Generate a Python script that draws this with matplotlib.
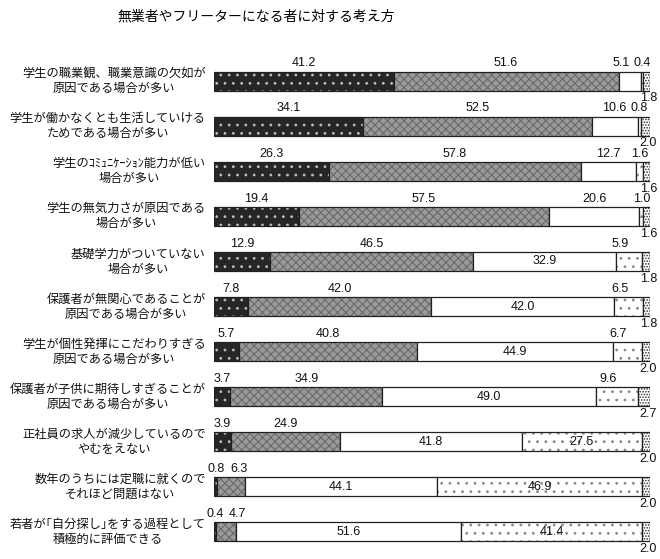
import matplotlib
matplotlib.use("Agg")
import matplotlib.pyplot as plt
import numpy as np

plt.rcParams['font.family'] = ['Noto Sans CJK JP', 'DejaVu Sans']
plt.rcParams['hatch.linewidth'] = 0.8

title = "無業者やフリーターになる者に対する考え方"

categories = [
    "学生の職業観、職業意識の欠如が\n原因である場合が多い",
    "学生が働かなくとも生活していける\nためである場合が多い",
    "学生のｺﾐｭﾆｹｰｼｮﾝ能力が低い\n場合が多い",
    "学生の無気力さが原因である\n場合が多い",
    "基礎学力がついていない\n場合が多い",
    "保護者が無関心であることが\n原因である場合が多い",
    "学生が個性発揮にこだわりすぎる\n原因である場合が多い",
    "保護者が子供に期待しすぎることが\n原因である場合が多い",
    "正社員の求人が減少しているので\nやむをえない",
    "数年のうちには定職に就くので\nそれほど問題はない",
    "若者が｢自分探し｣をする過程として\n積極的に評価できる",
]

s1 = [41.2, 34.1, 26.3, 19.4, 12.9, 7.8, 5.7, 3.7, 3.9, 0.8, 0.4]
s2 = [51.6, 52.5, 57.8, 57.5, 46.5, 42.0, 40.8, 34.9, 24.9, 6.3, 4.7]
s3 = [5.1, 10.6, 12.7, 20.6, 32.9, 42.0, 44.9, 49.0, 41.8, 44.1, 51.6]
s4 = [0.4, 0.8, 1.6, 1.0, 5.9, 6.5, 6.7, 9.6, 27.5, 46.9, 41.4]
s5 = [1.8, 2.0, 1.6, 1.6, 1.8, 1.8, 2.0, 2.7, 2.0, 2.0, 2.0]

series = [s1, s2, s3, s4, s5]
faces = ['#262626', '#9a9a9a', 'white', 'white', 'white']
hatches = ['..', 'xxxx', None, '..', '......']
hcolors = ['#bdbdbd', '#6a6a6a', 'none', '#8a8a8a', '#333333']

fig = plt.figure(figsize=(6.6, 5.59), dpi=100)
ax = fig.add_axes([214 / 660, 4.5 / 559, 436 / 660, 496 / 559])

y = np.arange(len(categories))
h = 0.42
left = np.zeros(len(categories))
for vals, fc, ht, hc in zip(series, faces, hatches, hcolors):
    vals = np.array(vals)
    ax.barh(y, vals, left=left, height=h, color=fc, hatch=ht,
            edgecolor=hc, linewidth=0)
    ax.barh(y, vals, left=left, height=h, color='none',
            edgecolor='#202020', linewidth=0.9)
    left = left + vals

num = dict(fontsize=9, family=['Liberation Sans', 'DejaVu Sans'], color='#111111')
for i in range(len(categories)):
    top = i - h / 2 - 0.05
    bot = i + h / 2 + 0.04
    b1 = s1[i]
    b2 = b1 + s2[i]
    b3 = b2 + s3[i]
    ax.text(b1 / 2, top, f"{s1[i]:.1f}", ha='center', va='bottom', **num)
    x2 = max(b1 + s2[i] / 2, b1 + 5)
    ax.text(x2, top, f"{s2[i]:.1f}", ha='center', va='bottom', **num)
    if s3[i] < 25:
        x3 = min(b2 + s3[i] / 2, b3 - 4.5)
        ax.text(x3, top, f"{s3[i]:.1f}", ha='center', va='bottom', **num)
    else:
        ax.text(b2 + s3[i] / 2, i, f"{s3[i]:.1f}", ha='center', va='center', **num)
    if s4[i] < 20:
        x4 = b3 + s4[i] / 2
        if s4[i] > 3:
            x4 -= 2
        ax.text(x4, top, f"{s4[i]:.1f}", ha='center', va='bottom', **num)
    else:
        ax.text(b3 + s4[i] / 2, i, f"{s4[i]:.1f}", ha='center', va='center', **num)
    ax.text(99.6, bot, f"{s5[i]:.1f}", ha='center', va='top', **num)

ax.set_xlim(0, 100)
ax.set_ylim(len(categories) - 0.5, -0.5)
ax.set_yticks([])
ax.set_xticks([])
for sp in ax.spines.values():
    sp.set_visible(False)

for i, lab in enumerate(categories):
    ax.text(-1.9, i, lab, ha='right', va='center', ma='center',
            fontsize=8.8, linespacing=1.2, color='#111111')

fig.text(256 / 660, 1 - 16 / 559, title, ha='center', va='center', fontsize=10)

fig.savefig("out.png", dpi=100)
